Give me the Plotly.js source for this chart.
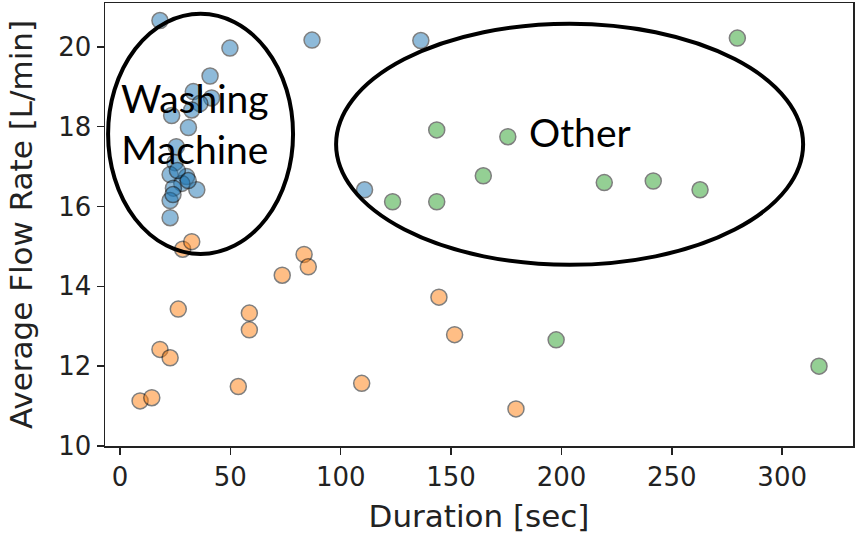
<!DOCTYPE html>
<html>
<head>
<meta charset="utf-8">
<script src="https://cdn.plot.ly/plotly-3.0.1.min.js"></script>
<style>
html,body{margin:0;padding:0;background:#fff;}
#chart{width:858px;height:534px;}
</style>
</head>
<body>
<div id="chart"></div>
<script>
// Washing machine cluster (blue)
const washDuration = [18.1, 49.8, 87.0, 136.3, 110.8, 40.8, 33.2, 41.5, 36.2, 32.5, 23.4, 31.0, 25.5, 24.9, 22.7, 30.2, 28.0, 24.2, 34.8, 22.7, 22.7, 26.0, 24.0, 30.9];
const washFlow     = [20.66, 19.97, 20.17, 20.16, 16.42, 19.27, 18.88, 18.72, 18.58, 18.42, 18.28, 17.98, 17.50, 17.10, 16.80, 16.75, 16.58, 16.46, 16.42, 16.15, 15.72, 16.90, 16.30, 16.65];
// Orange cluster
const lowDuration = [28.4, 32.5, 83.4, 85.3, 73.5, 26.4, 58.6, 58.6, 144.5, 151.6, 18.1, 22.7, 53.6, 109.5, 9.1, 14.4, 179.4];
const lowFlow     = [14.93, 15.12, 14.80, 14.49, 14.28, 13.43, 13.33, 12.91, 13.73, 12.79, 12.42, 12.21, 11.49, 11.57, 11.13, 11.21, 10.93];
// Other (green)
const otherDuration = [279.7, 143.5, 175.7, 164.6, 219.4, 241.6, 262.8, 123.5, 143.5, 197.6, 316.7];
const otherFlow     = [20.22, 17.92, 17.75, 16.77, 16.60, 16.64, 16.42, 16.12, 16.12, 12.66, 12.00];

const xTicks = [0, 50, 100, 150, 200, 250, 300];
const yTicks = [10, 12, 14, 16, 18, 20];

function series(x, y, color) {
  return {
    type: 'scatter', mode: 'markers', x: x, y: y,
    marker: {size: 16, color: color, opacity: 0.5, line: {color: '#000', width: 1.5}},
    hoverinfo: 'x+y', showlegend: false
  };
}

const data = [
  series(washDuration, washFlow, '#1f77b4'),
  series(lowDuration, lowFlow, '#ff7f0e'),
  series(otherDuration, otherFlow, '#2ca02c')
];

const tickFont = {family: 'DejaVu Sans', size: 26, color: '#222'};
const titleFont = {family: 'DejaVu Sans', size: 31, color: '#222'};
const layout = {
  width: 858, height: 534,
  margin: {l: 105, r: 5, t: 3, b: 88},
  paper_bgcolor: '#fff', plot_bgcolor: '#fff',
  xaxis: {
    range: [-6.8, 332.1], tickvals: xTicks, ticktext: xTicks.map(String),
    showgrid: false, zeroline: false, showline: true, mirror: true,
    linecolor: '#222', linewidth: 1.5, ticks: 'outside', ticklen: 7, tickwidth: 1.5, tickcolor: '#222',
    tickfont: tickFont,
    title: {text: 'Duration [sec]', font: titleFont, standoff: 16}
  },
  yaxis: {
    range: [10, 21.1], tickvals: yTicks, ticktext: yTicks.map(String),
    showgrid: false, zeroline: false, showline: true, mirror: true,
    linecolor: '#222', linewidth: 1.5, ticks: 'outside', ticklen: 7, tickwidth: 1.5, tickcolor: '#222',
    tickfont: tickFont,
    title: {text: 'Average Flow Rate [L/min]', font: titleFont, standoff: 16}
  },
  shapes: [
    {type: 'circle', xref: 'x', yref: 'y', x0: -5.4, x1: 78.4, y0: 14.81, y1: 20.83, line: {color: '#000', width: 4}, layer: 'above'},
    {type: 'circle', xref: 'x', yref: 'y', x0: 97.9, x1: 309.5, y0: 14.54, y1: 20.58, line: {color: '#000', width: 4}, layer: 'above'}
  ],
  annotations: [
    {text: 'Washing<br>Machine', xref: 'x', yref: 'y', x: 34, y: 18.07, showarrow: false,
     font: {family: 'Lato', size: 39, color: '#000'}},
    {text: 'Other', xref: 'x', yref: 'y', x: 208.4, y: 17.87, showarrow: false,
     font: {family: 'Lato', size: 39, color: '#000'}}
  ]
};

Plotly.newPlot('chart', data, layout, {displayModeBar: false, staticPlot: true});
</script>
</body>
</html>
